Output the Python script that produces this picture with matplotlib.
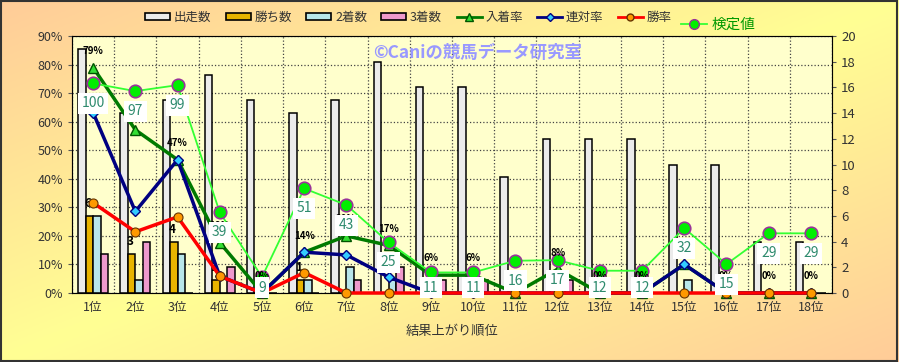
import numpy as np
import matplotlib
matplotlib.use("Agg")
import matplotlib.pyplot as plt
from matplotlib.patches import Patch, Rectangle
from matplotlib.lines import Line2D

plt.rcParams["font.family"] = ["Noto Sans CJK JP", "DejaVu Sans"]

# 結果上がり順位ごとの集計
categories = ["1位", "2位", "3位", "4位", "5位", "6位", "7位", "8位", "9位",
              "10位", "11位", "12位", "13位", "14位", "15位", "16位", "17位", "18位"]
starts = [19, 14, 15, 17, 15, 14, 15, 18, 16, 16, 9, 12, 12, 12, 10, 10, 4, 4]
wins = [6, 3, 4, 1, 0, 1, 0, 0, 0, 0, 0, 0, 0, 0, 0, 0, 0, 0]
seconds = [6, 1, 3, 0, 0, 1, 2, 1, 0, 0, 0, 0, 0, 0, 1, 0, 0, 0]
thirds = [3, 4, 0, 2, 0, 0, 1, 2, 1, 1, 0, 1, 0, 0, 0, 0, 0, 0]

# 検定値（プロット位置と表示値）
kentei_pos = [73.4, 70.7, 72.8, 28.2, 5.6, 36.6, 30.8, 17.7, 7.2, 7.2,
              11.3, 11.5, 7.8, 7.8, 22.7, 10.1, 20.9, 20.9]
kentei_labels = [100, 97, 99, 39, 9, 51, 43, 25, 11, 11, 16, 17, 12, 12, 32, 15, 29, 29]

n = np.array(starts, dtype=float)
w = np.array(wins, dtype=float)
s = np.array(seconds, dtype=float)
t = np.array(thirds, dtype=float)
win_rate = w / n * 100
top2_rate = (w + s) / n * 100
top3_rate = (w + s + t) / n * 100

x = np.arange(len(categories))

fig = plt.figure(figsize=(8.99, 3.62), dpi=100)

# 背景グラデーション
bg = fig.add_axes([0, 0, 1, 1], zorder=-10)
gx, gy = np.meshgrid(np.linspace(0, 1, 300), np.linspace(0, 1, 120))
tt = np.abs((gx + gy) / 2 - 0.5) * 2
peach = np.array([1.0, 0.80, 0.60])
yellow = np.array([1.0, 1.0, 0.58])
img = yellow * (1 - tt[..., None]) + peach * tt[..., None]
bg.imshow(img, aspect="auto", extent=[0, 1, 0, 1], origin="upper")
bg.axis("off")
fig.patches.append(Rectangle((0.001, 0.002), 0.997, 0.995, transform=fig.transFigure,
                             fill=False, edgecolor="#333333", lw=1.5))

ax = fig.add_axes([0.0801, 0.1906, 0.8454, 0.7099])
ax.set_facecolor("#FFFFCC")
ax.set_xlim(-0.5, len(categories) - 0.5)
ax.set_ylim(0, 90)
ax.set_yticks(range(0, 91, 10))
ax.set_yticklabels([f"{v}%" for v in range(0, 91, 10)])
ax.set_xticks(x)
ax.set_xticklabels(categories)
ax.set_xticks(np.arange(-0.5, len(categories), 1), minor=True)
ax.grid(which="minor", axis="x", ls=":", color="#444444", lw=0.9)
ax.grid(which="major", axis="y", ls=":", color="#444444", lw=0.9)
ax.tick_params(axis="x", which="both", length=0, labelsize=9, labelcolor="#333333", pad=6)
ax.tick_params(axis="y", length=3, labelsize=9, labelcolor="#333333", color="#555555")
ax.set_xlabel("結果上がり順位", fontsize=9.5, color="#333333", labelpad=8)
for sp in ax.spines.values():
    sp.set_color("#777777")

# 棒グラフ（右軸）
ax2 = ax.twinx()
ax2.set_ylim(0, 20)
ax2.set_yticks(range(0, 21, 2))
ax2.tick_params(axis="y", length=3, labelsize=9.5, labelcolor="#333333", color="#555555")
bw = 0.178
ax2.bar(x - 1.5 * bw, starts, bw, color="#EBEBEB", edgecolor="black", lw=1.1)
ax2.bar(x - 0.5 * bw, wins, bw, color="#E8B400", edgecolor="black", lw=1.1)
ax2.bar(x + 0.5 * bw, seconds, bw, color="#B8E6EA", edgecolor="black", lw=1.1)
ax2.bar(x + 1.5 * bw, thirds, bw, color="#EE99CC", edgecolor="black", lw=1.1)
for xi, v in zip(x, wins):
    if v > 0:
        ax2.annotate(f"{v}", (xi - 0.5 * bw, v), xytext=(-1, 9), textcoords="offset points",
                     ha="center", va="center", fontsize=8.5, fontweight="bold", color="black")

# 折れ線（左軸スケール）
ax3 = ax.twinx()
ax3.set_ylim(0, 90)
ax3.yaxis.set_visible(False)
for sp in ax3.spines.values():
    sp.set_visible(False)

ax3.plot(x, top3_rate, color="#007A00", lw=2.5, marker="^", ms=7.5,
         mfc="#33DD33", mec="#005500", clip_on=False, zorder=3)
ax3.plot(x, top2_rate, color="#000080", lw=2.5, marker="D", ms=5.5,
         mfc="#33CCFF", mec="#000080", clip_on=False, zorder=4)
ax3.plot(x, win_rate, color="#FF0000", lw=2.5, marker="o", ms=6.5,
         mfc="#FF9900", mec="#663300", mew=0.8, clip_on=False, zorder=5)
ax3.plot(x, kentei_pos, color="#33FF33", lw=1.3, marker="o", ms=9,
         mfc="#00EE00", mec="#993399", mew=1.2, clip_on=False, zorder=6)

for xi, v in zip(x, top3_rate):
    ax3.annotate(f"{v:.0f}%", (xi, v), xytext=(0, 12), textcoords="offset points",
                 ha="center", va="center", fontsize=7, fontweight="bold",
                 color="black", zorder=7)

for xi, v, lab in zip(x, kentei_pos, kentei_labels):
    ax3.text(xi, max(v - 7.0, 1.8), f"{lab}", ha="center", va="center",
             fontsize=10, color="#2E8B6E", zorder=8,
             bbox=dict(boxstyle="square,pad=0.25", fc="white", ec="none"))

ax3.text(0.534, 0.934, "©Caniの競馬データ研究室", transform=ax3.transAxes,
         ha="center", va="center", fontsize=12.5, fontweight="bold", color="#9999FF", zorder=2)

# 凡例
handles = [
    Patch(facecolor="#EBEBEB", edgecolor="black", lw=1.2),
    Patch(facecolor="#E8B400", edgecolor="black", lw=1.2),
    Patch(facecolor="#B8E6EA", edgecolor="black", lw=1.2),
    Patch(facecolor="#EE99CC", edgecolor="black", lw=1.2),
    Line2D([], [], color="#007A00", lw=2, marker="^", ms=6, mfc="#33DD33", mec="#005500"),
    Line2D([], [], color="#000080", lw=2, marker="D", ms=4, mfc="#33CCFF", mec="#000080"),
    Line2D([], [], color="#FF0000", lw=2, marker="o", ms=5, mfc="#FF9900", mec="#663300"),
]
labels = ["出走数", "勝ち数", "2着数", "3着数", "入着率", "連対率", "勝率"]
fig.legend(handles, labels, ncol=7, loc="center left", bbox_to_anchor=(140 / 899, 1 - 17 / 362),
           frameon=False, fontsize=9, handlelength=2.0, handleheight=0.5,
           handletextpad=0.3, columnspacing=1.15, labelcolor="#333333", borderaxespad=0)
fig.legend([Line2D([], [], color="#33FF33", lw=1.3, marker="o", ms=7,
                   mfc="#00EE00", mec="#993399")],
           ["検定値"], loc="center left", bbox_to_anchor=(675 / 899, 1 - 25 / 362),
           frameon=False, fontsize=10.5, handlelength=1.8, handletextpad=0.3,
           labelcolor="#009900", borderaxespad=0)

fig.savefig("out.png", dpi=100)
